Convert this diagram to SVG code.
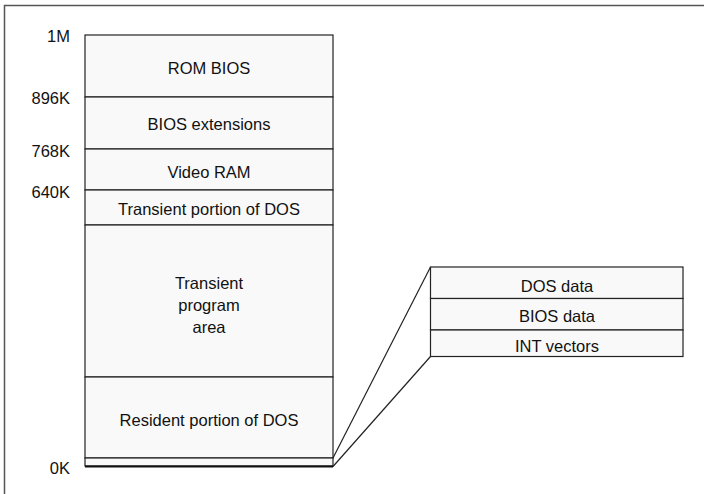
<svg xmlns="http://www.w3.org/2000/svg" width="704" height="494" viewBox="0 0 704 494">
<style>
.t{font-family:"Liberation Sans",Arial,sans-serif;font-size:16.5px;fill:#111}
.c{text-anchor:middle}
.r{text-anchor:end}
.box{fill:#f9f9f9;stroke:#222;stroke-width:1.2}
.ln{stroke:#222;stroke-width:1.2;fill:none}
</style>
<rect x="0" y="0" width="704" height="494" fill="#fff"/>
<path d="M4.5,494 V5.5 H704" fill="none" stroke="#555" stroke-width="1.5"/>
<g id="memory">
<g id="rom-bios"><rect class="box" x="85" y="35" width="248" height="62"/><text class="t c" x="209" y="74">ROM BIOS</text></g>
<g id="bios-ext"><rect class="box" x="85" y="97" width="248" height="52"/><text class="t c" x="209" y="129.5">BIOS extensions</text></g>
<g id="video-ram"><rect class="box" x="85" y="149" width="248" height="41"/><text class="t c" x="209" y="178">Video RAM</text></g>
<g id="transient-dos"><rect class="box" x="85" y="190" width="248" height="35"/><text class="t c" x="209" y="215">Transient portion of DOS</text></g>
<g id="tpa"><rect class="box" x="85" y="225" width="248" height="152"/><text class="t c" x="209" y="289">Transient</text><text class="t c" x="209" y="311">program</text><text class="t c" x="209" y="332.5">area</text></g>
<g id="resident-dos"><rect class="box" x="85" y="377" width="248" height="81"/><text class="t c" x="209" y="425.5">Resident portion of DOS</text></g>
<g id="low-mem"><rect class="box" x="85" y="458" width="248" height="8"/><line x1="85" y1="466.5" x2="333" y2="466.5" stroke="#111" stroke-width="2"/></g>
</g>
<g id="addresses">
<text class="t r" x="70" y="42">1M</text>
<text class="t r" x="70" y="104">896K</text>
<text class="t r" x="70" y="156.5">768K</text>
<text class="t r" x="70" y="197.5">640K</text>
<text class="t r" x="70" y="474">0K</text>
</g>
<g id="detail">
<g id="dos-data"><rect class="box" x="430.5" y="267" width="252.5" height="31.5"/><text class="t c" x="557" y="291.5">DOS data</text></g>
<g id="bios-data"><rect class="box" x="430.5" y="298.5" width="252.5" height="31.5"/><text class="t c" x="557" y="321.5">BIOS data</text></g>
<g id="int-vectors"><rect class="box" x="430.5" y="330" width="252.5" height="26.5"/><text class="t c" x="557" y="351.5">INT vectors</text></g>
</g>
<g id="connectors">
<line class="ln" x1="333" y1="458" x2="430.5" y2="267"/>
<line class="ln" x1="333" y1="466.5" x2="430.5" y2="356.5"/>
</g>
</svg>
